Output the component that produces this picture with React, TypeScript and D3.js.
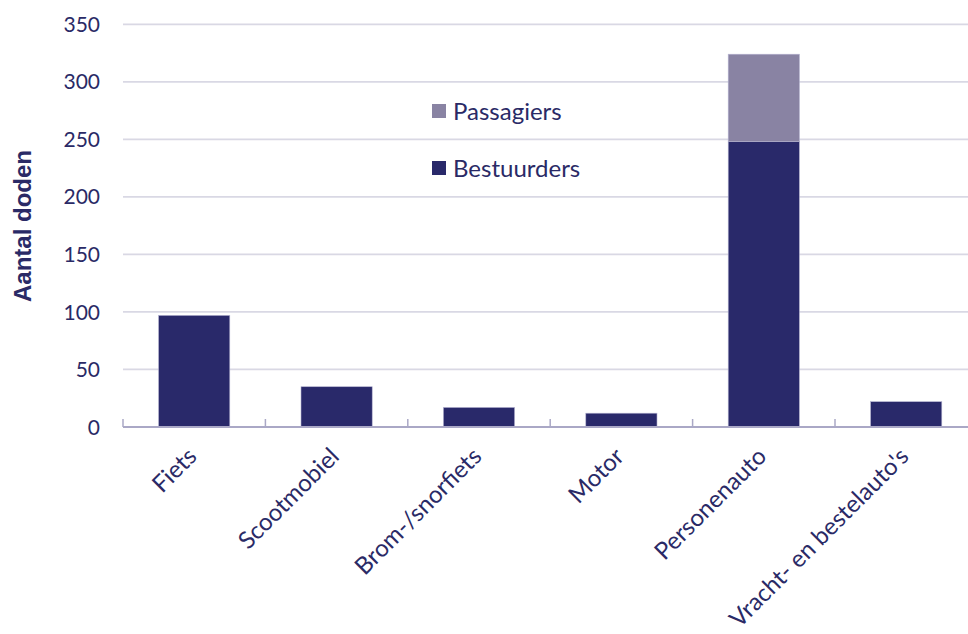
import React from "react";
import * as d3 from "d3";

const categories = ["Fiets", "Scootmobiel", "Brom-/snorfiets", "Motor", "Personenauto", "Vracht- en bestelauto's"];
const bestuurders = [97, 35, 17, 12, 248, 22];
const passagiers = [0, 0, 0, 0, 76, 0];
const yTicks = [0, 50, 100, 150, 200, 250, 300, 350];
const seriesNames = ["Passagiers", "Bestuurders"];

const W = 968;
const H = 634;
const DARK = "#29296a";
const LIGHT = "#8983a3";
const TEXT = "#2a2a66";
const FONT = "Lato, 'Open Sans', sans-serif";

export default function App() {
  const x = d3.scaleBand<string>().domain(categories).range([123, 977.4]).paddingInner(0.5).paddingOuter(0.25);
  const y = d3.scaleLinear().domain([0, 350]).range([427, 24.3]);
  const step = x.step();
  const bw = x.bandwidth();
  const stack = d3.stack<number>().keys(["b", "p"]).value((i, k) => (k === "b" ? bestuurders[i] : passagiers[i]));
  const series = stack(d3.range(categories.length));
  const colors = [DARK, LIGHT];
  return (
    <svg width={W} height={H} style={{ position: "absolute", left: 0, top: 0, background: "#fff" }}>
      {yTicks.filter((t) => t > 0).map((t) => (
        <line key={t} x1={123} x2={W} y1={y(t)} y2={y(t)} stroke="#d9d8e4" strokeWidth={1.8} />
      ))}
      {yTicks.map((t) => (
        <text key={"l" + t} x={100} y={y(t)} dy="0.36em" textAnchor="end" fontFamily={FONT} fontSize={21} fill={TEXT}>
          {t}
        </text>
      ))}
      {series.map((s, si) =>
        s.map((d, i) =>
          d[1] - d[0] > 0 ? (
            <rect key={si + "-" + i} x={x(categories[i])!} width={bw} y={y(d[1])} height={y(d[0]) - y(d[1])} fill={colors[si]} stroke="#b4b2d0" strokeWidth={0.6} />
          ) : null
        )
      )}
      <line x1={123} x2={W} y1={427} y2={427} stroke="#aaa8c6" strokeWidth={1.8} />
      {d3.range(categories.length + 1).map((i) => {
        const bx = 123 + i * step;
        return <line key={"t" + i} x1={bx} x2={bx} y1={427} y2={419} stroke="#aaa8c6" strokeWidth={1.5} />;
      })}
      {categories.map((c) => {
        const cx = x(c)! + bw / 2;
        return (
          <text key={c} transform={`translate(${cx + 4},${458}) rotate(-45)`} textAnchor="end" fontFamily={FONT} fontSize={24} fill={TEXT}>
            {c}
          </text>
        );
      })}
      <text transform={`translate(31,226) rotate(-90)`} textAnchor="middle" fontFamily="'Liberation Sans', Arial, sans-serif" fontWeight="bold" fontSize={24} fill={TEXT}>
        Aantal doden
      </text>
      {seriesNames.map((n, i) => (
        <g key={n} transform={`translate(432,${104 + i * 57})`}>
          <rect x={0} y={0} width={14} height={14} fill={i === 0 ? LIGHT : DARK} />
          <text x={21} y={7} dy="0.36em" fontFamily={FONT} fontSize={24} fill={TEXT}>
            {n}
          </text>
        </g>
      ))}
    </svg>
  );
}
